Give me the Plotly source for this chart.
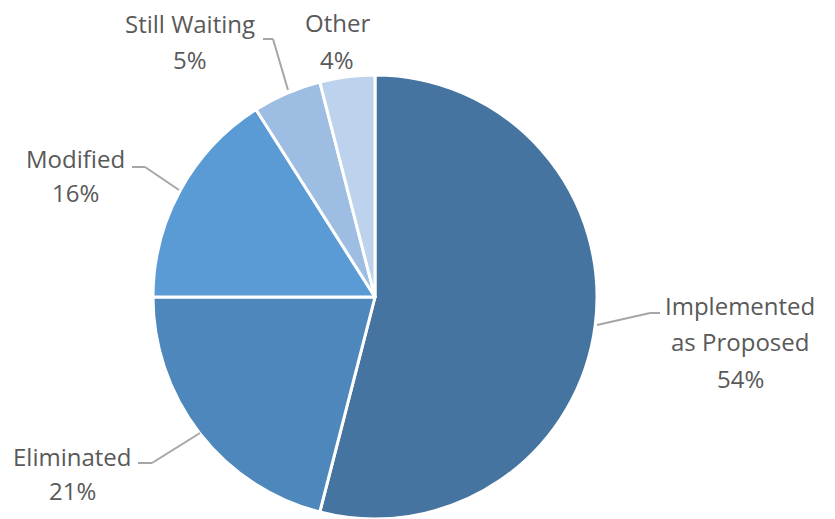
import plotly.graph_objects as go

categories = ["Implemented as Proposed", "Eliminated", "Modified", "Still Waiting", "Other"]
values = [54, 21, 16, 5, 4]
colors = ["#44749F", "#4D87BB", "#5B9BD5", "#9DBDE2", "#BDD2EC"]

# label text lines per category
label_lines = {
    "Implemented as Proposed": ["Implemented", "as Proposed", "54%"],
    "Eliminated": ["Eliminated", "21%"],
    "Modified": ["Modified", "16%"],
    "Still Waiting": ["Still Waiting", "5%"],
    "Other": ["Other", "4%"],
}

W, H = 835, 519

# label placement (pixel centers of first line) and line spacing
label_pos = {
    "Implemented as Proposed": (740, 305, 36.5),
    "Eliminated": (72, 456, 34),
    "Modified": (75, 158, 34),
    "Still Waiting": (190, 24, 36),
    "Other": (337, 23, 37),
}
leaders = {
    "Implemented as Proposed": [(597, 325), (650, 313), (660, 313)],
    "Eliminated": [(138, 463), (152, 463), (200, 433)],
    "Modified": [(132, 167), (145, 167), (179, 190)],
    "Still Waiting": [(263, 39), (273, 39), (288, 90)],
}

def px(x):
    return x / W

def py(y):
    return 1 - y / H

CX, R = 375, 222
fig = go.Figure(go.Pie(
    labels=categories,
    values=values,
    sort=False,
    direction="clockwise",
    rotation=0,
    textinfo="none",
    hoverinfo="label+percent",
    marker=dict(colors=colors, line=dict(color="white", width=3)),
    domain=dict(x=[(CX - R) / W, (CX + R) / W], y=[0, 1 - 75 / H]),
    showlegend=False,
))

annotations = []
for cat, lines in label_lines.items():
    cx, cy, sp = label_pos[cat]
    for i, t in enumerate(lines):
        annotations.append(dict(
            x=px(cx), y=py(cy + i * sp), xref="paper", yref="paper",
            text=t, showarrow=False, xanchor="center", yanchor="middle",
            font=dict(family="Open Sans", size=24, color="#595959"),
        ))

shapes = []
for cat, pts in leaders.items():
    for (x0, y0), (x1, y1) in zip(pts[:-1], pts[1:]):
        shapes.append(dict(type="line", xref="paper", yref="paper",
                           x0=px(x0), y0=py(y0), x1=px(x1), y1=py(y1),
                           line=dict(color="#A6A6A6", width=2)))

fig.update_layout(
    width=W, height=H,
    margin=dict(l=0, r=0, t=0, b=0),
    paper_bgcolor="white", plot_bgcolor="white",
    annotations=annotations, shapes=shapes,
)

fig.write_html("out.html", config={"displayModeBar": False},
               post_script="document.body.style.margin='0';")
